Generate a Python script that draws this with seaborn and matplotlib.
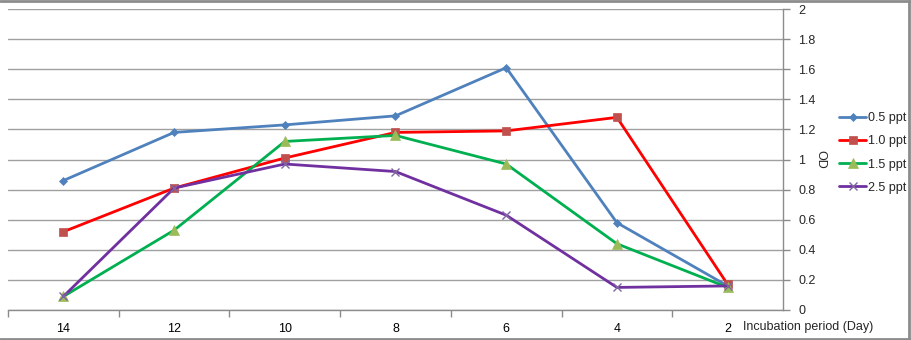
import matplotlib
matplotlib.use("Agg")
import matplotlib.pyplot as plt
from matplotlib.lines import Line2D
from matplotlib.ticker import FixedLocator, NullFormatter
import seaborn as sns
import pandas as pd

days = ["14", "12", "10", "8", "6", "4", "2"]
od_05 = [0.86, 1.18, 1.23, 1.29, 1.61, 0.58, 0.16]
od_10 = [0.52, 0.81, 1.01, 1.18, 1.19, 1.28, 0.17]
od_15 = [0.09, 0.53, 1.12, 1.16, 0.97, 0.44, 0.15]
od_25 = [0.09, 0.81, 0.97, 0.92, 0.63, 0.15, 0.16]
series_names = ["0.5 ppt", "1.0 ppt", "1.5 ppt", "2.5 ppt"]
y_ticks = [0, 0.2, 0.4, 0.6, 0.8, 1, 1.2, 1.4, 1.6, 1.8, 2]
y_tick_labels = ["0", "0.2", "0.4", "0.6", "0.8", "1", "1.2", "1.4", "1.6", "1.8", "2"]

sns.set_theme(style="white")
plt.rcParams["font.family"] = ["Liberation Sans", "DejaVu Sans"]

fig = plt.figure(figsize=(9.12, 3.4), dpi=100)
ax = fig.add_axes([8 / 912, 30 / 340, 775 / 912, 301 / 340])

styles = [
    dict(color="#4F81BD", marker="D", mfc="#4F81BD", mec="#4F81BD", ms=4.5),
    dict(color="#FF0000", marker="s", mfc="#C0504D", mec="#C0504D", ms=6),
    dict(color="#00B050", marker="^", mfc="#9BBB59", mec="#9BBB59", ms=6.5),
    dict(color="#7030A0", marker="x", mfc="#8064A2", mec="#8064A2", ms=6),
]
data = [od_05, od_10, od_15, od_25]
for name, vals, st in zip(series_names, data, styles):
    df = pd.DataFrame({"day": days, "OD": vals})
    sns.lineplot(data=df, x="day", y="OD", ax=ax, color=st["color"], linewidth=2,
                 marker=st["marker"], markersize=st["ms"],
                 markerfacecolor=st["mfc"], markeredgecolor=st["mec"],
                 markeredgewidth=1.0 if st["marker"] == "x" else 0.5,
                 label=name, sort=False)

ax.set_xlim(-0.5, 6.5)
ax.set_ylim(0, 2)

ax.yaxis.tick_right()
ax.yaxis.set_label_position("right")
ax.set_yticks(y_ticks)
ax.set_yticklabels(y_tick_labels)
ax.grid(axis="y", color="#A0A0A0", linewidth=1)
ax.grid(axis="x", visible=False)

ax.set_xticks(range(len(days)))
ax.set_xticklabels(days)
ax.xaxis.set_minor_locator(FixedLocator([i - 0.5 for i in range(len(days))]))
ax.xaxis.set_minor_formatter(NullFormatter())
ax.tick_params(axis="x", which="major", length=0, pad=9, labelsize=9, colors="#000000")
ax.tick_params(axis="x", which="minor", length=5, width=1, color="#8C8C8C", direction="out", bottom=True)
ax.tick_params(axis="y", which="major", length=5, width=1, color="#8C8C8C", direction="out",
               right=True, left=False, labelsize=9, pad=6)

for s in ["left", "top"]:
    ax.spines[s].set_visible(False)
for s in ["bottom", "right"]:
    ax.spines[s].set_visible(True)
    ax.spines[s].set_color("#8C8C8C")
    ax.spines[s].set_linewidth(1)

ax.set_xlabel("")
ax.set_ylabel("OD", rotation=-90, fontsize=9, va="center")
ax.yaxis.set_label_coords(1.048, 0.5)

fig.text(743 / 912, 1 - 327 / 340, "Incubation period (Day)", fontsize=9, ha="left", va="center")

leg = ax.legend(loc="center left", bbox_to_anchor=(834 / 912, 1 - 153 / 340),
                bbox_transform=fig.transFigure, frameon=False, fontsize=9,
                handlelength=2.2, handletextpad=0.1, labelspacing=0.9, borderaxespad=0)

border = dict(transform=fig.transFigure, color="#8C8C8C", linewidth=2)
fig.lines.append(Line2D([0, 910 / 912], [1 - 1 / 340, 1 - 1 / 340], **border))
fig.lines.append(Line2D([0, 910 / 912], [1 / 340, 1 / 340], **border))
fig.lines.append(Line2D([909.5 / 912, 909.5 / 912], [1 / 340, 1 - 1 / 340], **border))

fig.savefig("out.png", dpi=100)
